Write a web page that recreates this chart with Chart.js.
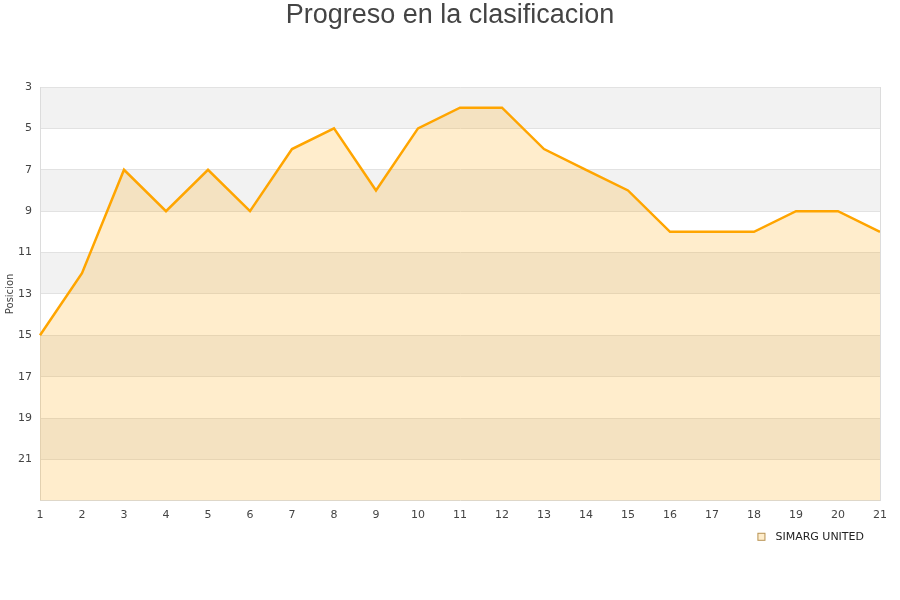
<!DOCTYPE html>
<html>
<head>
<meta charset="utf-8">
<script src="https://cdn.jsdelivr.net/npm/chart.js@4/dist/chart.umd.min.js"></script>
<style>
  html, body { margin: 0; padding: 0; background: #fff; }
  #wrap { width: 900px; height: 600px; position: relative; }
</style>
</head>
<body>
<div id="wrap"><canvas id="chart"></canvas></div>
<script>
// datos
const jornadas   = ['1','2','3','4','5','6','7','8','9','10','11','12','13','14','15','16','17','18','19','20','21'];
const posiciones = [15, 12, 7, 9, 7, 9, 6, 5, 8, 5, 4, 4, 6, 7, 8, 10, 10, 10, 9, 9, 10];
const yTicks     = [3, 5, 7, 9, 11, 13, 15, 17, 19, 21];
const equipo     = 'SIMARG UNITED';
const titulo     = 'Progreso en la clasificacion';

// bandas alternas, borde derecho, título centrado y leyenda abajo a la derecha
const bandsPlugin = {
  id: 'bands',
  beforeDraw(chart) {
    const { ctx, chartArea: a, scales: { y } } = chart;
    ctx.save();
    ctx.fillStyle = '#f2f2f2';
    for (let v = 3; v < 23; v += 4) {
      const y1 = y.getPixelForValue(v);
      const y2 = y.getPixelForValue(v + 2);
      ctx.fillRect(a.left, y1, a.right - a.left, y2 - y1);
    }
    ctx.restore();
  },
  afterDraw(chart) {
    const { ctx, chartArea: a } = chart;
    ctx.save();
    ctx.strokeStyle = '#dcdcdc';
    ctx.lineWidth = 1;
    ctx.beginPath();
    ctx.moveTo(a.right + 0.5, a.top);
    ctx.lineTo(a.right + 0.5, a.bottom);
    ctx.stroke();

    // título
    ctx.fillStyle = '#444';
    ctx.font = '27px "Liberation Sans"';
    ctx.textAlign = 'center';
    ctx.textBaseline = 'middle';
    ctx.fillText(titulo, chart.width / 2, 16);

    // leyenda
    const ly = a.bottom + 36;
    ctx.font = '11px "DejaVu Sans"';
    ctx.textAlign = 'right';
    ctx.fillStyle = '#222';
    const tx = a.right - 16;
    ctx.fillText(equipo, tx, ly);
    const tw = ctx.measureText(equipo).width;
    ctx.fillStyle = '#feedcc';
    ctx.strokeStyle = '#b8955a';
    ctx.fillRect(tx - tw - 18, ly - 4, 8, 8);
    ctx.strokeRect(tx - tw - 17.5, ly - 3.5, 7, 7);
    ctx.restore();
  }
};

const tickFont = { family: 'DejaVu Sans', size: 11 };

new Chart(document.getElementById('chart'), {
  type: 'line',
  data: {
    labels: jornadas,
    datasets: [{
      label: equipo,
      data: posiciones,
      borderColor: '#ffa500',
      borderWidth: 2.5,
      backgroundColor: 'rgba(255,165,0,0.2)',
      fill: { value: 23 },
      pointRadius: 0,
      tension: 0,
    }],
  },
  options: {
    responsive: true,
    maintainAspectRatio: false,
    animation: false,
    layout: { padding: { top: 87, right: 20, bottom: 78, left: 0 } },
    plugins: {
      title: { display: false },
      legend: { display: false },
      tooltip: { enabled: false },
    },
    scales: {
      x: {
        offset: false,
        grid: { display: false },
        border: { color: '#dcdcdc' },
        ticks: { color: '#444', font: tickFont, maxRotation: 0, autoSkip: false, padding: 0 },
      },
      y: {
        reverse: true,
        min: 3,
        max: 23,
        afterBuildTicks: s => { s.ticks = yTicks.map(v => ({ value: v })); },
        afterFit: s => { s.width = 40; },
        grid: { color: '#e2e2e2', drawTicks: false },
        border: { color: '#dcdcdc' },
        ticks: { color: '#444', font: tickFont, padding: 8 },
        title: {
          display: true,
          text: 'Posicion',
          color: '#444',
          font: { family: 'DejaVu Sans', size: 10 },
          padding: { top: 4, bottom: 0 },
        },
      },
    },
  },
  plugins: [bandsPlugin],
});
</script>
</body>
</html>
